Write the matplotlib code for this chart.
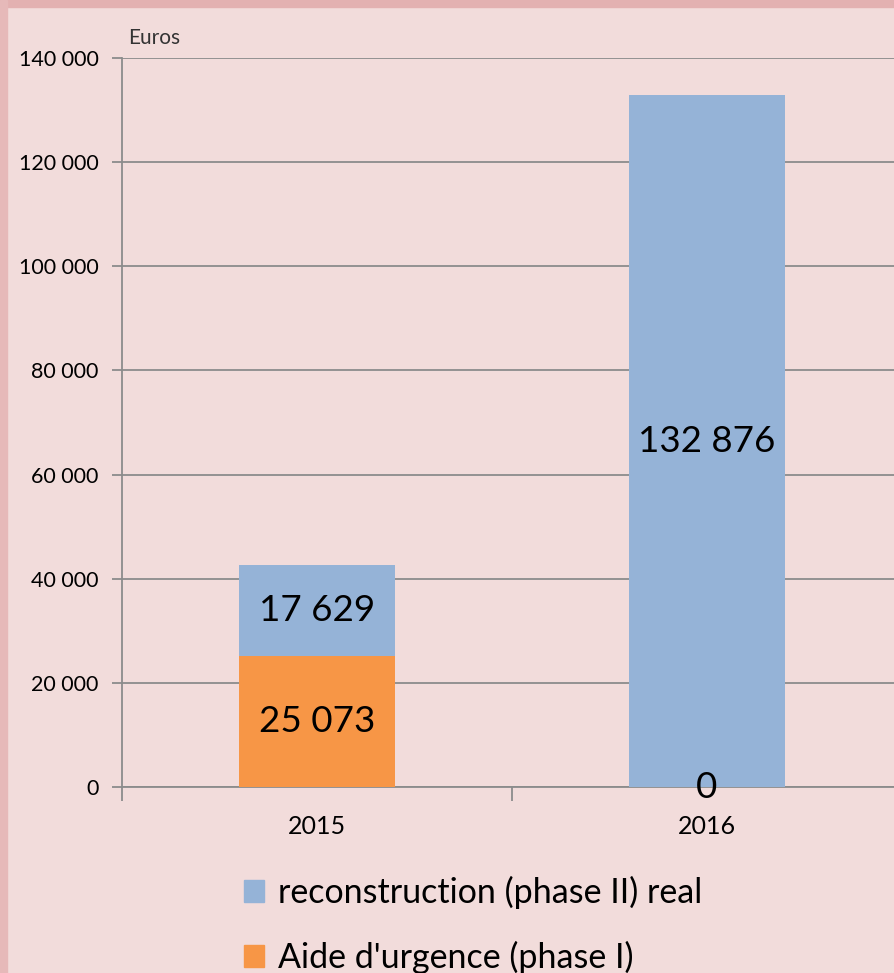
import matplotlib.pyplot as plt
from matplotlib.patches import Rectangle, Patch

years = ["2015", "2016"]
aide = [25073, 0]
reconstruction = [17629, 132876]
aide_labels = ["25 073", "0"]
recon_labels = ["17 629", "132 876"]
yticks = [0, 20000, 40000, 60000, 80000, 100000, 120000, 140000]

BG = "#f2dcdb"
BLUE = "#95b3d7"
ORANGE = "#f79646"
GRID = "#8c8c8c"

plt.rcParams['font.family'] = ['Lato', 'DejaVu Sans']

fig = plt.figure(figsize=(8.94, 9.73), dpi=100)
fig.patch.set_facecolor(BG)
# pink frame at the top and left
fig.patches.append(Rectangle((0, 1 - 7 / 973), 1, 7 / 973, transform=fig.transFigure,
                             color="#e3b1b1", zorder=0))
fig.patches.append(Rectangle((0, 0), 7 / 894, 1, transform=fig.transFigure,
                             color="#e6b9b9", zorder=0))

ax = fig.add_axes([122 / 894, 186 / 973, 780 / 894, 729 / 973])
ax.set_facecolor(BG)
x = list(range(len(years)))
ax.bar(x, aide, width=0.4, color=ORANGE, zorder=3)
ax.bar(x, reconstruction, width=0.4, bottom=aide, color=BLUE, zorder=3)

for i in x:
    ax.text(i, aide[i] / 2, aide_labels[i], ha="center", va="center", fontsize=26.5, zorder=4)
    ax.text(i, aide[i] + reconstruction[i] / 2, recon_labels[i], ha="center", va="center",
            fontsize=26.5, zorder=4)

ax.set_xlim(-0.5, 1.5)
ax.set_ylim(0, 140000)
ax.set_yticks(yticks)
ax.set_yticklabels([f"{v:,}".replace(",", " ") for v in yticks], fontsize=15.5)
ax.yaxis.grid(True, color=GRID, linewidth=1.3, zorder=1)
ax.set_axisbelow(True)
ax.tick_params(axis="y", length=7, width=1.3, color=GRID, pad=10)
ax.set_xticks([-0.5, 0.5, 1.5], minor=False)
ax.set_xticklabels([])
ax.tick_params(axis="x", length=10, width=1.3, color=GRID)
ax.set_xticks(x, minor=True)
ax.set_xticklabels(years, minor=True, fontsize=18)
ax.tick_params(axis="x", which="minor", length=0, pad=20)
for s in ["top", "right"]:
    ax.spines[s].set_visible(False)
for s in ["left", "bottom"]:
    ax.spines[s].set_color(GRID)
    ax.spines[s].set_linewidth(1.3)

fig.text(128 / 894, 1 - 38 / 973, "Euros", fontsize=15, color="#333333", va="center")

handles = [Patch(color=BLUE), Patch(color=ORANGE)]
fig.legend(handles, ["reconstruction (phase II) real", "Aide d'urgence (phase I)"],
           loc="upper left", bbox_to_anchor=(230 / 894, 1 - 862 / 973), frameon=False,
           fontsize=24.5, handlelength=0.6, handleheight=0.6, handletextpad=0.4,
           labelspacing=0.95, borderaxespad=0)

fig.savefig("out.png", dpi=100, facecolor=BG)
